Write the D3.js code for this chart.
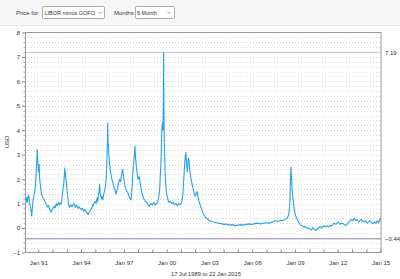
<!DOCTYPE html>
<html>
<head>
<meta charset="utf-8">
<script src="https://cdn.jsdelivr.net/npm/d3@7"></script>
<style>
html,body{margin:0;padding:0;background:#f7f7f7;}
svg{display:block;font-family:"Liberation Sans",Arial,sans-serif;}
</style>
</head>
<body>
<svg id="chart" width="400" height="279"></svg>
<script>
// decimal-year positions of the sampled points
const years = [
1990.10,1990.14,1990.18,1990.22,1990.25,1990.29,1990.33,1990.37,1990.40,1990.44,1990.47,1990.51,1990.54,1990.57,1990.60,1990.63,1990.66,1990.69,1990.72,1990.75,1990.78,1990.81,1990.83,1990.86,1990.88,1990.91,1990.93,1990.95,1990.97,
1991.00,1991.02,1991.04,1991.06,1991.08,1991.10,1991.13,1991.16,1991.19,1991.22,1991.25,1991.28,1991.32,1991.35,1991.38,1991.42,1991.46,1991.50,1991.54,1991.58,1991.62,1991.66,1991.70,1991.74,1991.78,1991.82,1991.86,1991.90,1991.93,1991.96,
1992.00,1992.04,1992.08,1992.12,1992.16,1992.20,1992.24,1992.28,1992.32,1992.36,1992.40,1992.44,1992.48,1992.52,1992.56,1992.60,1992.64,1992.68,1992.71,1992.74,1992.77,1992.80,1992.83,1992.86,1992.89,1992.92,1992.95,1992.98,
1993.01,1993.04,1993.08,1993.12,1993.16,1993.20,1993.25,1993.30,1993.35,1993.40,1993.45,1993.50,1993.55,1993.60,1993.65,1993.70,1993.75,1993.80,1993.85,1993.90,1993.95,
1994.00,1994.05,1994.10,1994.15,1994.20,1994.25,1994.30,1994.35,1994.40,1994.45,1994.50,1994.54,1994.58,1994.62,1994.66,1994.70,1994.74,1994.78,1994.82,1994.86,1994.90,1994.94,1994.98,
1995.02,1995.06,1995.10,1995.14,1995.18,1995.22,1995.26,1995.30,1995.33,1995.36,1995.40,1995.44,1995.48,1995.52,1995.56,1995.60,1995.64,1995.68,1995.72,1995.76,1995.79,1995.82,1995.85,1995.87,1995.89,1995.92,1995.95,1995.97,
1996.00,1996.03,1996.06,1996.10,1996.13,1996.16,1996.19,1996.22,1996.26,1996.30,1996.34,1996.38,1996.42,1996.46,1996.50,1996.54,1996.58,1996.62,1996.66,1996.70,1996.74,1996.78,1996.82,1996.86,1996.89,1996.92,1996.95,1996.98,
1997.02,1997.05,1997.08,1997.12,1997.16,1997.20,1997.24,1997.28,1997.32,1997.36,1997.40,1997.44,1997.47,1997.50,1997.53,1997.56,1997.59,1997.62,1997.65,1997.68,1997.71,1997.74,1997.76,1997.78,1997.80,1997.83,1997.86,1997.88,1997.91,1997.94,1997.97,
1998.00,1998.04,1998.08,1998.12,1998.16,1998.20,1998.24,1998.28,1998.32,1998.36,1998.40,1998.45,1998.50,1998.55,1998.60,1998.65,1998.70,1998.75,1998.80,1998.85,1998.90,1998.95,
1999.00,1999.05,1999.10,1999.15,1999.20,1999.25,1999.30,1999.34,1999.38,1999.42,1999.46,1999.50,1999.53,1999.56,1999.60,1999.63,1999.65,1999.68,1999.70,1999.73,1999.75,1999.77,1999.79,1999.81,1999.82,1999.84,1999.86,1999.88,1999.90,1999.93,1999.95,1999.98,
2000.00,2000.04,2000.08,2000.12,2000.16,2000.20,2000.25,2000.30,2000.35,2000.40,2000.45,2000.50,2000.55,2000.60,2000.65,2000.70,2000.75,2000.80,2000.85,2000.90,2000.95,
2001.00,2001.05,2001.09,2001.12,2001.15,2001.18,2001.21,2001.24,2001.27,2001.30,2001.33,2001.35,2001.38,2001.40,2001.43,2001.45,2001.48,2001.50,2001.53,2001.56,2001.59,2001.62,2001.65,2001.68,2001.72,2001.75,2001.79,2001.82,2001.86,2001.90,2001.94,2001.98,
2002.02,2002.06,2002.10,2002.14,2002.18,2002.22,2002.26,2002.30,2002.35,2002.40,2002.45,2002.50,2002.55,2002.60,2002.65,2002.70,2002.75,2002.80,2002.85,2002.90,2002.95,
2003.00,2003.08,2003.15,2003.22,2003.30,2003.38,2003.45,2003.52,2003.60,2003.70,2003.80,2003.90,2004.00,2004.10,2004.20,2004.30,2004.40,2004.50,2004.60,2004.70,2004.80,2004.90,
2005.00,2005.10,2005.20,2005.30,2005.40,2005.50,2005.60,2005.70,2005.80,2005.90,2006.00,2006.10,2006.20,2006.30,2006.40,2006.50,2006.60,2006.70,2006.80,2006.90,
2007.00,2007.10,2007.20,2007.30,2007.40,2007.50,2007.60,2007.70,2007.80,2007.90,2008.00,2008.08,2008.15,2008.22,2008.30,2008.38,2008.45,2008.50,2008.55,2008.59,2008.62,2008.65,2008.67,2008.69,2008.71,2008.73,2008.74,2008.76,2008.78,2008.80,2008.82,2008.85,2008.88,2008.91,2008.94,2008.97,
2009.00,2009.04,2009.08,2009.12,2009.16,2009.21,2009.26,2009.31,2009.36,2009.41,2009.46,2009.51,2009.56,2009.61,2009.66,2009.71,2009.76,2009.81,2009.86,2009.91,2009.96,
2010.01,2010.06,2010.11,2010.16,2010.21,2010.26,2010.31,2010.36,2010.41,2010.46,2010.51,2010.56,2010.61,2010.66,2010.71,2010.76,2010.81,2010.86,2010.91,2010.96,
2011.01,2011.06,2011.11,2011.16,2011.21,2011.26,2011.31,2011.36,2011.41,2011.46,2011.51,2011.56,2011.61,2011.66,2011.71,2011.76,2011.81,2011.86,2011.91,2011.96,
2012.01,2012.06,2012.11,2012.16,2012.21,2012.26,2012.31,2012.36,2012.41,2012.46,2012.51,2012.56,2012.61,2012.66,2012.71,2012.76,2012.81,2012.86,2012.91,2012.96,
2013.01,2013.06,2013.11,2013.16,2013.21,2013.26,2013.31,2013.36,2013.41,2013.46,2013.51,2013.56,2013.61,2013.66,2013.71,2013.76,2013.81,2013.86,2013.91,2013.96,
2014.01,2014.06,2014.11,2014.16,2014.21,2014.26,2014.31,2014.36,2014.41,2014.46,2014.51,2014.56,2014.61,2014.66,2014.71,2014.76,2014.81,2014.86,2014.91,2014.96,2015.00,2015.04
];
// LIBOR minus GOFO, 6 month (USD)
const values = [
1.0,1.2,1.25,1.05,1.1,1.3,1.35,1.15,1.0,0.9,0.8,0.65,0.5,0.7,0.95,1.1,1.2,1.3,1.4,1.5,1.65,1.8,2.0,2.3,2.6,2.9,3.2,2.9,2.7,
2.5,2.3,2.45,2.6,2.3,2.0,1.85,1.7,1.55,1.4,1.35,1.3,1.25,1.2,1.18,1.15,1.1,1.05,1.0,0.95,0.9,0.85,0.92,0.9,0.8,0.75,0.7,0.65,0.7,0.75,
0.78,0.8,0.88,0.9,0.82,0.85,0.95,1.0,0.92,0.95,1.0,1.05,0.98,0.95,1.02,1.0,1.1,1.3,1.45,1.6,1.75,1.9,2.2,2.45,2.3,2.1,1.95,1.8,
1.6,1.4,1.2,1.0,0.9,0.85,0.92,0.95,0.88,0.9,0.98,1.0,0.9,0.85,0.92,0.95,0.85,0.8,0.88,0.85,0.8,
0.75,0.78,0.8,0.72,0.7,0.76,0.72,0.68,0.65,0.6,0.55,0.6,0.65,0.7,0.75,0.78,0.8,0.88,0.95,0.92,1.0,1.05,1.1,
1.05,1.0,1.15,1.25,1.1,1.35,1.5,1.8,1.5,1.4,1.25,1.2,1.3,1.15,1.3,1.4,1.5,1.6,1.75,2.0,2.4,2.9,3.6,4.3,3.5,3.4,3.0,2.9,
2.6,2.5,2.3,2.2,2.1,2.0,1.95,1.9,1.8,1.7,1.6,1.55,1.45,1.4,1.5,1.6,1.7,1.8,1.9,2.0,1.95,1.9,2.1,2.25,2.35,2.4,2.25,2.1,
1.95,1.8,1.7,1.65,1.55,1.5,1.48,1.45,1.35,1.3,1.25,1.2,1.18,1.15,1.3,1.5,1.8,2.2,2.4,2.6,2.8,3.0,3.2,3.35,3.1,2.8,2.6,2.5,2.35,2.2,2.1,
2.0,2.05,2.1,1.95,1.8,1.65,1.5,1.4,1.35,1.25,1.2,1.15,1.1,1.08,1.05,1.0,0.95,0.92,0.9,0.95,1.0,0.98,
0.95,1.0,1.05,0.98,0.95,1.0,1.0,1.05,1.1,1.2,1.3,1.5,1.8,2.2,2.6,3.2,3.8,4.1,4.3,4.1,4.0,5.5,7.19,5.0,4.2,3.5,3.0,2.6,2.2,1.9,1.7,1.55,
1.4,1.3,1.2,1.1,1.05,1.08,1.1,1.05,1.0,1.02,1.05,1.0,0.95,0.98,1.0,0.95,0.9,0.95,1.0,0.98,0.95,
0.98,1.05,1.15,1.3,1.5,1.8,2.1,2.4,2.7,2.9,3.0,3.1,2.8,2.6,2.4,2.3,2.5,2.7,2.85,2.8,2.6,2.4,2.25,2.1,2.0,1.9,1.8,1.7,1.6,1.5,1.4,1.3,
1.35,1.4,1.45,1.5,1.35,1.2,1.1,1.05,0.95,0.85,0.78,0.7,0.62,0.55,0.5,0.45,0.42,0.4,0.37,0.35,0.32,
0.3,0.3,0.28,0.26,0.25,0.24,0.22,0.22,0.2,0.19,0.18,0.17,0.15,0.16,0.16,0.14,0.12,0.13,0.14,0.12,0.1,0.11,
0.12,0.13,0.14,0.13,0.12,0.14,0.15,0.16,0.17,0.16,0.15,0.17,0.18,0.19,0.2,0.18,0.17,0.19,0.2,0.21,
0.22,0.21,0.2,0.23,0.25,0.27,0.3,0.29,0.28,0.3,0.32,0.31,0.3,0.33,0.35,0.38,0.4,0.45,0.55,0.7,0.9,1.2,1.6,2.1,2.5,2.3,2.2,2.0,1.8,1.6,1.4,1.25,1.1,0.95,0.8,0.7,
0.6,0.52,0.45,0.4,0.35,0.3,0.25,0.2,0.15,0.12,0.1,0.07,0.05,0.06,0.08,0.04,0.02,0.0,-0.02,0.01,0.0,
-0.03,-0.05,-0.06,-0.08,-0.03,0.02,-0.02,-0.05,-0.08,-0.1,-0.07,-0.05,-0.02,0.0,0.03,0.05,0.02,0.0,0.04,0.08,
0.06,0.1,0.07,0.05,0.08,0.1,0.07,0.05,0.09,0.12,0.1,0.08,0.12,0.15,0.18,0.2,0.17,0.15,0.18,0.2,
0.22,0.25,0.2,0.15,0.18,0.2,0.19,0.18,0.16,0.15,0.12,0.1,0.13,0.15,0.2,0.25,0.28,0.3,0.33,0.35,
0.32,0.3,0.35,0.4,0.34,0.3,0.33,0.35,0.3,0.25,0.28,0.3,0.33,0.35,0.3,0.28,0.26,0.25,0.28,0.3,
0.25,0.2,0.22,0.25,0.28,0.3,0.26,0.22,0.2,0.18,0.22,0.25,0.23,0.2,0.24,0.3,0.27,0.22,0.28,0.4,0.35,0.32
];
const refLines = [7.19, -0.44];
const yTicks = [-1,0,1,2,3,4,5,6,7,8];
const xLabelYears = [1991,1994,1997,2000,2003,2006,2009,2012,2015];
const priceFor = "LIBOR minus GOFO";
const months = "6 Month";
const rangeLabel = "17 Jul 1989 to 22 Jan 2015";

function toDate(y){
  const yr = Math.floor(y);
  const start = new Date(yr,0,1), end = new Date(yr+1,0,1);
  return new Date(start.getTime() + (y-yr)*(end-start));
}

const svg = d3.select("#chart");
const W = 400, H = 279;
const m = {left:25, right:381, top:32.5, bottom:252.5};
const FONT = "Liberation Sans, Arial, sans-serif";

// backgrounds
svg.append("rect").attr("x",0).attr("y",0).attr("width",W).attr("height",H).attr("fill","#f7f7f7");
svg.append("rect").attr("x",0).attr("y",26).attr("width",W).attr("height",H-26).attr("fill","#ffffff");
svg.append("line").attr("x1",0).attr("x2",W).attr("y1",25.5).attr("y2",25.5).attr("stroke","#e6e6e6");

// header controls
const hdr = svg.append("g").attr("fill","#333");
hdr.append("text").attr("x",16).attr("y",14.5).attr("font-size",6).text("Price for");
hdr.append("rect").attr("x",42.5).attr("y",6.5).attr("width",62).attr("height",12).attr("fill","#fff").attr("stroke","#aaa").attr("rx",1);
hdr.append("text").attr("x",44.5).attr("y",14.5).attr("font-size",5.5).text(priceFor);
hdr.append("path").attr("d","M98.5,11.8 L100.3,13.6 L102.1,11.8").attr("fill","none").attr("stroke","#777").attr("stroke-width",0.7);
hdr.append("text").attr("x",114).attr("y",14.5).attr("font-size",6).text("Months");
hdr.append("rect").attr("x",135.5).attr("y",6.5).attr("width",39).attr("height",12).attr("fill","#fff").attr("stroke","#aaa").attr("rx",1);
hdr.append("text").attr("x",137).attr("y",14.5).attr("font-size",5.5).text(months);
hdr.append("path").attr("d","M167.5,11.8 L169.3,13.6 L171.1,11.8").attr("fill","none").attr("stroke","#777").attr("stroke-width",0.7);

// scales
const x = d3.scaleTime().domain([toDate(1990.07), toDate(2015.03)]).range([m.left, m.right]);
const y = d3.scaleLinear().domain([-1, 8]).range([m.bottom, m.top]);

// dotted gridlines every 0.2
const grid = d3.range(-0.8, 8.0001, 0.2).map(v => Math.round(v*10)/10).filter(v => v < 8);
svg.append("g").selectAll("line").data(grid).join("line")
  .attr("x1",m.left).attr("x2",m.right)
  .attr("y1",d=>Math.round(y(d))+0.5).attr("y2",d=>Math.round(y(d))+0.5)
  .attr("stroke","#d2d2d2").attr("stroke-width",0.8).attr("stroke-dasharray","1,2");

// reference lines
svg.append("line").attr("x1",m.left).attr("x2",m.right)
  .attr("y1",y(refLines[0])).attr("y2",y(refLines[0]))
  .attr("stroke","#e0cce8").attr("stroke-width",1.2);
svg.append("line").attr("x1",m.left).attr("x2",m.right)
  .attr("y1",y(refLines[1])).attr("y2",y(refLines[1]))
  .attr("stroke","#9a7fa9").attr("stroke-width",1);

// data line
const data = years.map((yr,i)=>({date:toDate(yr), v:values[i]}));
svg.append("path").datum(data)
  .attr("fill","none").attr("stroke","#25a2ea").attr("stroke-width",1.1)
  .attr("stroke-linejoin","round")
  .attr("d", d3.line().x(d=>x(d.date)).y(d=>y(d.v)));

// plot border
svg.append("rect").attr("x",m.left+0.5).attr("y",m.top).attr("width",m.right-m.left-0.5).attr("height",m.bottom-m.top)
  .attr("fill","none").attr("stroke","#999").attr("stroke-width",1);

// y axis
const yAxis = svg.append("g").attr("transform",`translate(${m.left},0)`)
  .call(d3.axisLeft(y).tickValues(yTicks).tickSize(3).tickPadding(2).tickFormat(d3.format("d")));
yAxis.select(".domain").remove();
yAxis.selectAll("line").attr("stroke","#888");
yAxis.selectAll("text").attr("font-size",6).attr("fill","#333").attr("font-family",FONT);
const yMinor = svg.append("g").attr("transform",`translate(${m.left},0)`)
  .call(d3.axisLeft(y).tickValues(grid.filter(v=>Math.abs(v-Math.round(v))>0.01)).tickSize(1.5).tickFormat(""));
yMinor.select(".domain").remove();
yMinor.selectAll("line").attr("stroke","#aaa");

// x axis (ticks inside, yearly)
const xAxis = svg.append("g").attr("transform",`translate(0,${m.bottom})`)
  .call(d3.axisBottom(x).ticks(d3.timeYear.every(1)).tickSizeInner(-3).tickSizeOuter(0).tickPadding(8)
    .tickFormat(d => xLabelYears.includes(d.getFullYear()) ? d3.timeFormat("Jan %y")(d) : ""));
xAxis.select(".domain").remove();
xAxis.selectAll("line").attr("stroke","#888");
xAxis.selectAll("text").attr("font-size",6).attr("fill","#333").attr("font-family",FONT);

// right labels
svg.append("g").attr("font-size",6).attr("fill","#333").selectAll("text").data(refLines).join("text")
  .attr("x",385).attr("y",d=>y(d)+2.2).text(d=>d3.format(".2f")(d));

// axis titles
svg.append("text").attr("transform",`translate(9,142) rotate(-90)`).attr("text-anchor","middle")
  .attr("font-size",6).attr("fill","#333").text("USD");
svg.append("text").attr("x",206).attr("y",275.5).attr("text-anchor","middle")
  .attr("font-size",5.8).attr("fill","#333").text(rangeLabel);
</script>
</body>
</html>
